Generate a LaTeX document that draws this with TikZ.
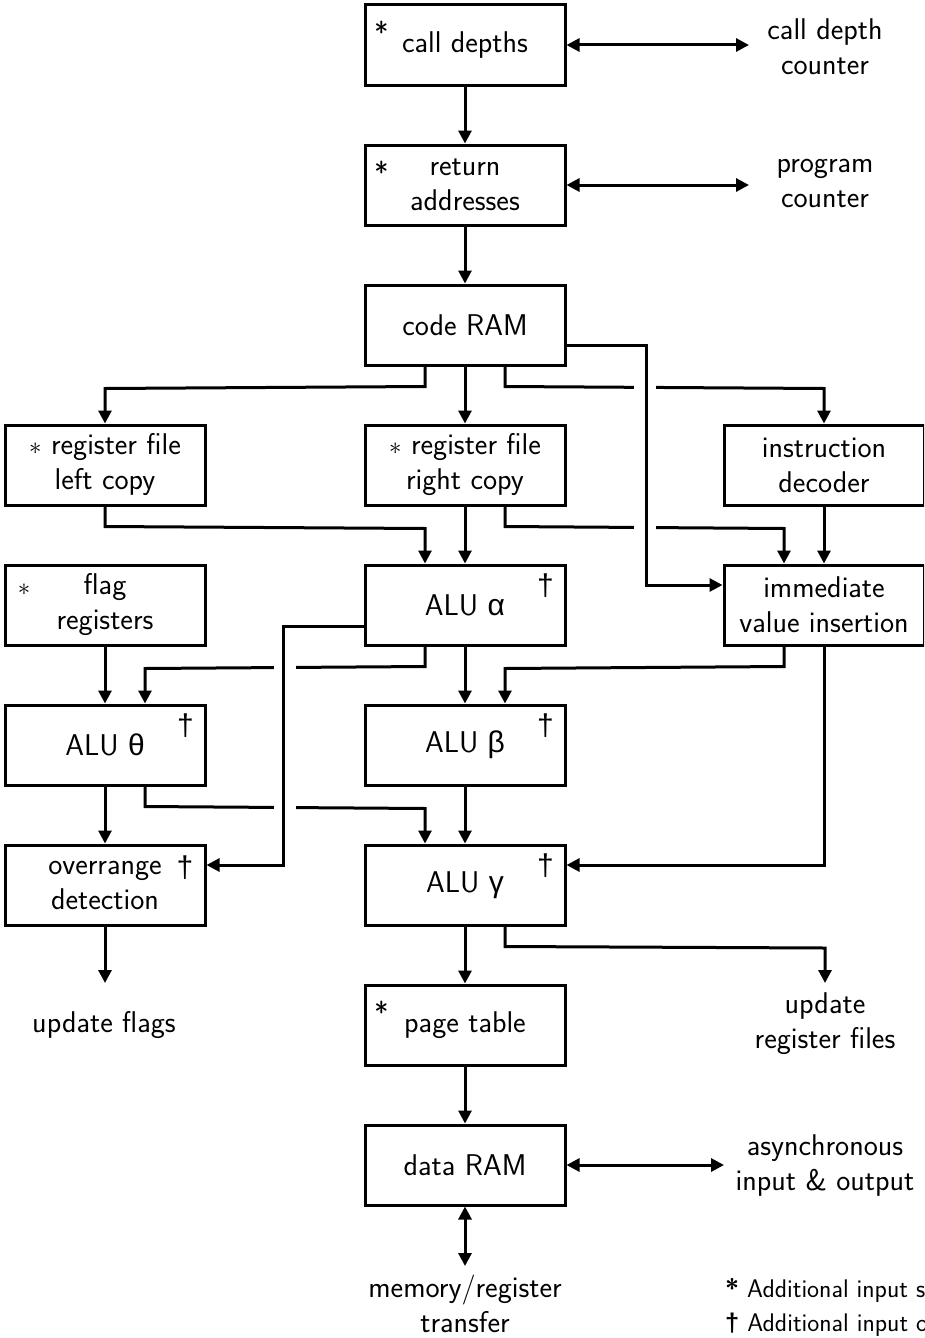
\documentclass[tikz,border=0pt]{standalone}
\usepackage{fontspec}
\newfontfamily\grk{Liberation Sans}
\usetikzlibrary{arrows.meta,calc}
\newcommand\fs{\sffamily\fontsize{30}{35}\selectfont}
\newcommand\lfs{\sffamily\fontsize{25.5}{30}\selectfont}
\begin{document}
\begin{tikzpicture}[x=1pt,y=-1pt,
  box/.style={draw, line width=3pt, minimum width=200, minimum height=80, align=center, inner sep=0, font=\fs},
  txt/.style={align=center, inner sep=0, font=\fs},
  starlab/.style={anchor=north, inner sep=0, font=\fs},
  daglab/.style={inner sep=0, font=\fs},
  arr/.style={line width=3pt, -{Triangle[length=13pt,width=13pt]}},
  dbl/.style={line width=3pt, {Triangle[length=13pt,width=13pt]}-{Triangle[length=13pt,width=13pt]}},
  eraser/.style={draw=white, line width=22pt}]
\useasboundingbox (0,0) rectangle (924,1338);
\clip (0,0) rectangle (924,1338);

% boxes
\node[box] (cd)   at (465,45)  {call depths};
\node[box] (ra)   at (465,185) {return\\addresses};
\node[box] (code) at (465,325) {code RAM};
\node[box] (rfl)  at (105,465) {$\ast$ register file\\left copy};
\node[box] (rfr)  at (465,465) {$\ast$ register file\\right copy};
\node[box] (dec)  at (824,465) {instruction\\decoder};
\node[box] (flag) at (105,605) {flag\\registers};
\node[box] (alua) at (465,605) {ALU {\grk α}};
\node[box] (imm)  at (824,605) {immediate\\value insertion};
\node[box] (alut) at (105,745) {ALU {\grk θ}};
\node[box] (alub) at (465,745) {ALU {\grk β}};
\node[box] (ovr)  at (105,885) {overrange\\detection};
\node[box] (alug) at (465,885) {ALU {\grk γ}};
\node[box] (pt)   at (465,1025) {page table};
\node[box] (dram) at (465,1165) {data RAM};

% star and dagger marks
\node[starlab] (s1) at ([shift={(18,17)}]cd.north west) {*};
\node[starlab] (s2) at ([shift={(18,17)}]ra.north west) {*};
\node[starlab] (s3) at ([shift={(18,17)}]pt.north west) {*};
\node[daglab]  (s4) at (24,590) {$\ast$};
\node[daglab] (d1) at ([shift={(-21,22)}]alua.north east) {\grk †};
\node[daglab] (d2) at ([shift={(-21,22)}]alut.north east) {\grk †};
\node[daglab] (d3) at ([shift={(-21,22)}]alub.north east) {\grk †};
\node[daglab] (d4) at ([shift={(-21,22)}]alug.north east) {\grk †};
\node[daglab] (d5) at (185,868) {\grk †};

% free texts
\node[txt] (cdc)   at (825,47)   {call depth\\counter};
\node[txt] (pc)    at (825,183)  {program\\counter};
\node[txt] (uflag) at (104,1025) {update flags};
\node[txt] (ureg)  at (825,1024) {update\\register files};
\node[txt] (async) at (825,1165) {asynchronous\\input \& output};
\node[txt] (mem)   at (465,1304) {memory/register\\transfer};
\node[anchor=west, inner sep=0, font=\lfs] (leg1) at (725,1290) {\textbf{*} Additional input state};
\node[anchor=west, inner sep=0, font=\lfs] (leg2) at (725,1325) {{\grk\bfseries †} Additional input operand};

% free ends
\coordinate (ecd) at (749,45);
\coordinate (era) at (749,185);
\coordinate (euf) at (105,983);
\coordinate (eur) at (825,983);
\coordinate (eio) at (724,1165);
\coordinate (emt) at (465,1266);

% connectors
\draw[dbl] (cd.east) -- (ecd);
\draw[dbl] (ra.east) -- (era);
\draw[arr] (cd.south) -- (ra.north);
\draw[arr] (ra.south) -- (code.north);
\draw[arr] ([shift={(-40,0)}]code.south) -- ++(0,20) -- ([shift={(0,-35)}]rfl.north) -- (rfl.north);
\draw[arr] (code.south) -- (rfr.north);
\draw[arr] ([shift={(40,0)}]code.south) -- ++(0,20) -- ([shift={(0,-35)}]dec.north) -- (dec.north);
\draw[arr] (rfl.south) -- ++(0,20) -- ([shift={(-40,-35)}]alua.north) -- ([shift={(-40,0)}]alua.north);
\draw[arr] (rfr.south) -- (alua.north);
\draw[arr] ([shift={(40,0)}]rfr.south) -- ++(0,20) -- ([shift={(-40,-35)}]imm.north) -- ([shift={(-40,0)}]imm.north);
\draw[arr] (dec.south) -- (imm.north);
\draw[arr] (flag.south) -- (alut.north);
\draw[arr] ([shift={(-40,0)}]alua.south) -- ++(0,20) -- ([shift={(40,-35)}]alut.north) -- ([shift={(40,0)}]alut.north);
\draw[arr] (alua.south) -- (alub.north);
\draw[arr] ([shift={(-40,0)}]imm.south) -- ++(0,20) -- ([shift={(40,-35)}]alub.north) -- ([shift={(40,0)}]alub.north);
\draw[arr] (imm.south) |- ([shift={(0,-20)}]alug.east);
\draw[arr] (alut.south) -- (ovr.north);
\draw[arr] ([shift={(40,0)}]alut.south) -- ++(0,20) -- ([shift={(-40,-35)}]alug.north) -- ([shift={(-40,0)}]alug.north);
\draw[arr] (alub.south) -- (alug.north);
\draw[arr] (ovr.south) -- (euf);
\draw[arr] (alug.south) -- (pt.north);
\draw[arr] ([shift={(40,0)}]alug.south) -- ++(0,20) -- ([shift={(0,-35)}]eur) -- (eur);
\draw[arr] (pt.south) -- (dram.north);
\draw[dbl] (dram.east) -- (eio);
\draw[dbl] (dram.south) -- (emt);

% gaps where lines cross
\path[eraser] (645,362) -- (645,572);
\path[eraser] (285,642) -- (285,852);

% crossing vertical connectors
\draw[arr] ([shift={(0,20)}]code.east) -- ++(80,0) |- ([shift={(0,-20)}]imm.west);
\draw[arr] ([shift={(0,21)}]alua.west) -- ++(-80,0) |- ([shift={(0,-20)}]ovr.east);
\end{tikzpicture}
\end{document}
